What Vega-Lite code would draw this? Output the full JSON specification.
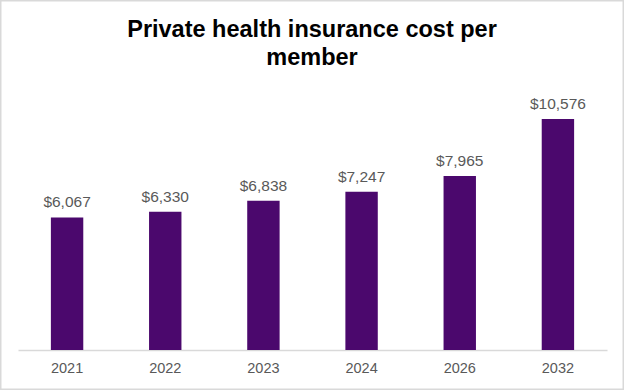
{
  "$schema": "https://vega.github.io/schema/vega-lite/v6.json",
  "width": 624,
  "height": 390,
  "padding": 0,
  "autosize": {"type": "none"},
  "background": "white",
  "config": {"view": {"stroke": "#d9d9d9", "strokeWidth": 3}},
  "title": {
    "text": ["Private health insurance cost per", "member"],
    "font": "Liberation Sans",
    "fontSize": 23.5,
    "fontWeight": "bold",
    "color": "#000000",
    "anchor": "middle",
    "lineHeight": 28,
    "offset": -69
  },
  "data": {
    "values": [
      {"year": "2021", "cost": 6067, "label": "$6,067"},
      {"year": "2022", "cost": 6330, "label": "$6,330"},
      {"year": "2023", "cost": 6838, "label": "$6,838"},
      {"year": "2024", "cost": 7247, "label": "$7,247"},
      {"year": "2026", "cost": 7965, "label": "$7,965"},
      {"year": "2032", "cost": 10576, "label": "$10,576"}
    ]
  },
  "encoding": {
    "x": {
      "field": "year",
      "type": "ordinal",
      "sort": null,
      "scale": {"range": [18, 607], "paddingInner": 0.67, "paddingOuter": 0.335},
      "axis": {
        "title": null,
        "offset": -40,
        "labelAngle": 0,
        "labelFont": "Liberation Sans",
        "labelFontSize": 14.5,
        "labelColor": "#595959",
        "labelPadding": 11,
        "ticks": false,
        "domainColor": "#d9d9d9",
        "domainWidth": 1.5
      }
    },
    "y": {
      "field": "cost",
      "type": "quantitative",
      "scale": {"domain": [-1831, 16025], "nice": false, "zero": false},
      "axis": null
    }
  },
  "layer": [
    {
      "mark": {"type": "bar", "color": "#4B086D"},
      "encoding": {"y2": {"datum": 0}}
    },
    {
      "mark": {
        "type": "text",
        "baseline": "bottom",
        "dy": -7,
        "font": "Liberation Sans",
        "fontSize": 15.5,
        "color": "#595959"
      },
      "encoding": {"text": {"field": "label"}}
    }
  ]
}
